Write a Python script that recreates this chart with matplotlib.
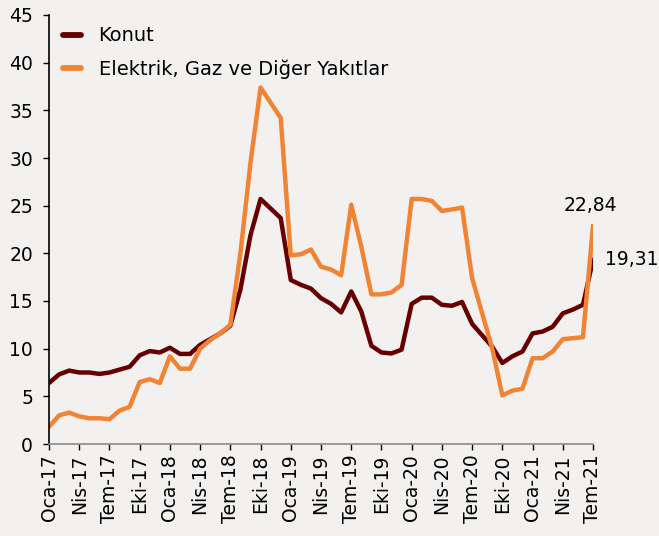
import matplotlib
matplotlib.use("Agg")
import matplotlib.pyplot as plt
import numpy as np

# ── data ─────────────────────────────────────────────────────────────────────
months = ["Oca", "Şub", "Mar", "Nis", "May", "Haz",
          "Tem", "Ağu", "Eyl", "Eki", "Kas", "Ara"]
dates = [f"{months[i % 12]}-{17 + i // 12}" for i in range(55)]

konut = [6.4, 7.3, 7.7, 7.5, 7.5, 7.35, 7.5, 7.8, 8.1, 9.3,
         9.75, 9.6, 10.1, 9.45, 9.45, 10.4, 11.0, 11.6, 12.4, 16.2,
         21.9, 25.7, 24.7, 23.7, 17.2, 16.7, 16.3, 15.3, 14.7, 13.8,
         16.0, 13.9, 10.3, 9.6, 9.5, 9.9, 14.7, 15.35, 15.35, 14.6,
         14.5, 14.9, 12.6, 11.4, 10.2, 8.5, 9.2, 9.7, 11.6, 11.8,
         12.3, 13.7, 14.1, 14.6, 19.31]

enerji = [1.8, 3.0, 3.3, 2.9, 2.7, 2.7, 2.6, 3.5, 3.9, 6.5,
          6.8, 6.4, 9.2, 7.9, 7.9, 10.0, 10.9, 11.6, 12.5, 20.0,
          29.5, 37.4, 35.8, 34.2, 19.8, 19.9, 20.4, 18.6, 18.3, 17.7,
          25.1, 20.7, 15.7, 15.7, 15.9, 16.7, 25.7, 25.7, 25.5, 24.45,
          24.6, 24.8, 17.4, 13.7, 10.0, 5.1, 5.6, 5.8, 9.0, 9.0,
          9.7, 11.0, 11.1, 11.2, 22.84]

C_KONUT = "#660000"
C_ENERJI = "#f08434"
BG = "#f2f1f0"

# ── figure ───────────────────────────────────────────────────────────────────
fig = plt.figure(figsize=(6.59, 5.36), dpi=100)
fig.patch.set_facecolor(BG)
ax = fig.add_axes([49 / 659, 1 - 444 / 536, (593 - 49) / 659, (444 - 15) / 536])
ax.set_facecolor(BG)

x = np.arange(len(dates))
ax.plot(x, konut, color=C_KONUT, lw=3.2, label="Konut", solid_joinstyle="round")
ax.plot(x, enerji, color=C_ENERJI, lw=3.2, label="Elektrik, Gaz ve Diğer Yakıtlar",
        solid_joinstyle="round")

ax.set_xlim(0, len(dates) - 1)
ax.set_ylim(0, 45)
ax.set_yticks(range(0, 46, 5))
ax.set_xticks(x[::3])
ax.set_xticklabels(dates[::3], rotation=90, fontsize=13.5)
ax.tick_params(axis="y", labelsize=13.5, length=4.5, width=1, color="black", pad=7)
ax.tick_params(axis="x", length=4.5, width=1, color="black", pad=3)

for s in ["top", "right"]:
    ax.spines[s].set_visible(False)
ax.spines["left"].set_color("black")
ax.spines["left"].set_linewidth(1.2)
ax.spines["bottom"].set_color("#8c8c8c")
ax.spines["bottom"].set_linewidth(1.2)

# ── end labels ───────────────────────────────────────────────────────────────
ax.annotate(f"{enerji[-1]:.2f}".replace(".", ","), (x[-1], enerji[-1]),
            xytext=(-2, 8), textcoords="offset points",
            ha="center", va="bottom", fontsize=13.5)
ax.annotate(f"{konut[-1]:.2f}".replace(".", ","), (x[-1], konut[-1]),
            xytext=(9, 0), textcoords="offset points",
            ha="left", va="center", fontsize=13.5, annotation_clip=False)

leg = ax.legend(loc="upper left", bbox_to_anchor=(0.0, 1.005), frameon=False,
                fontsize=14, handlelength=0.95, handletextpad=0.9,
                labelspacing=0.7, borderaxespad=0.3)
for h in leg.get_lines():
    h.set_linewidth(4.2)
    h.set_solid_capstyle("round")

fig.savefig("out.png", dpi=100, facecolor=BG)
